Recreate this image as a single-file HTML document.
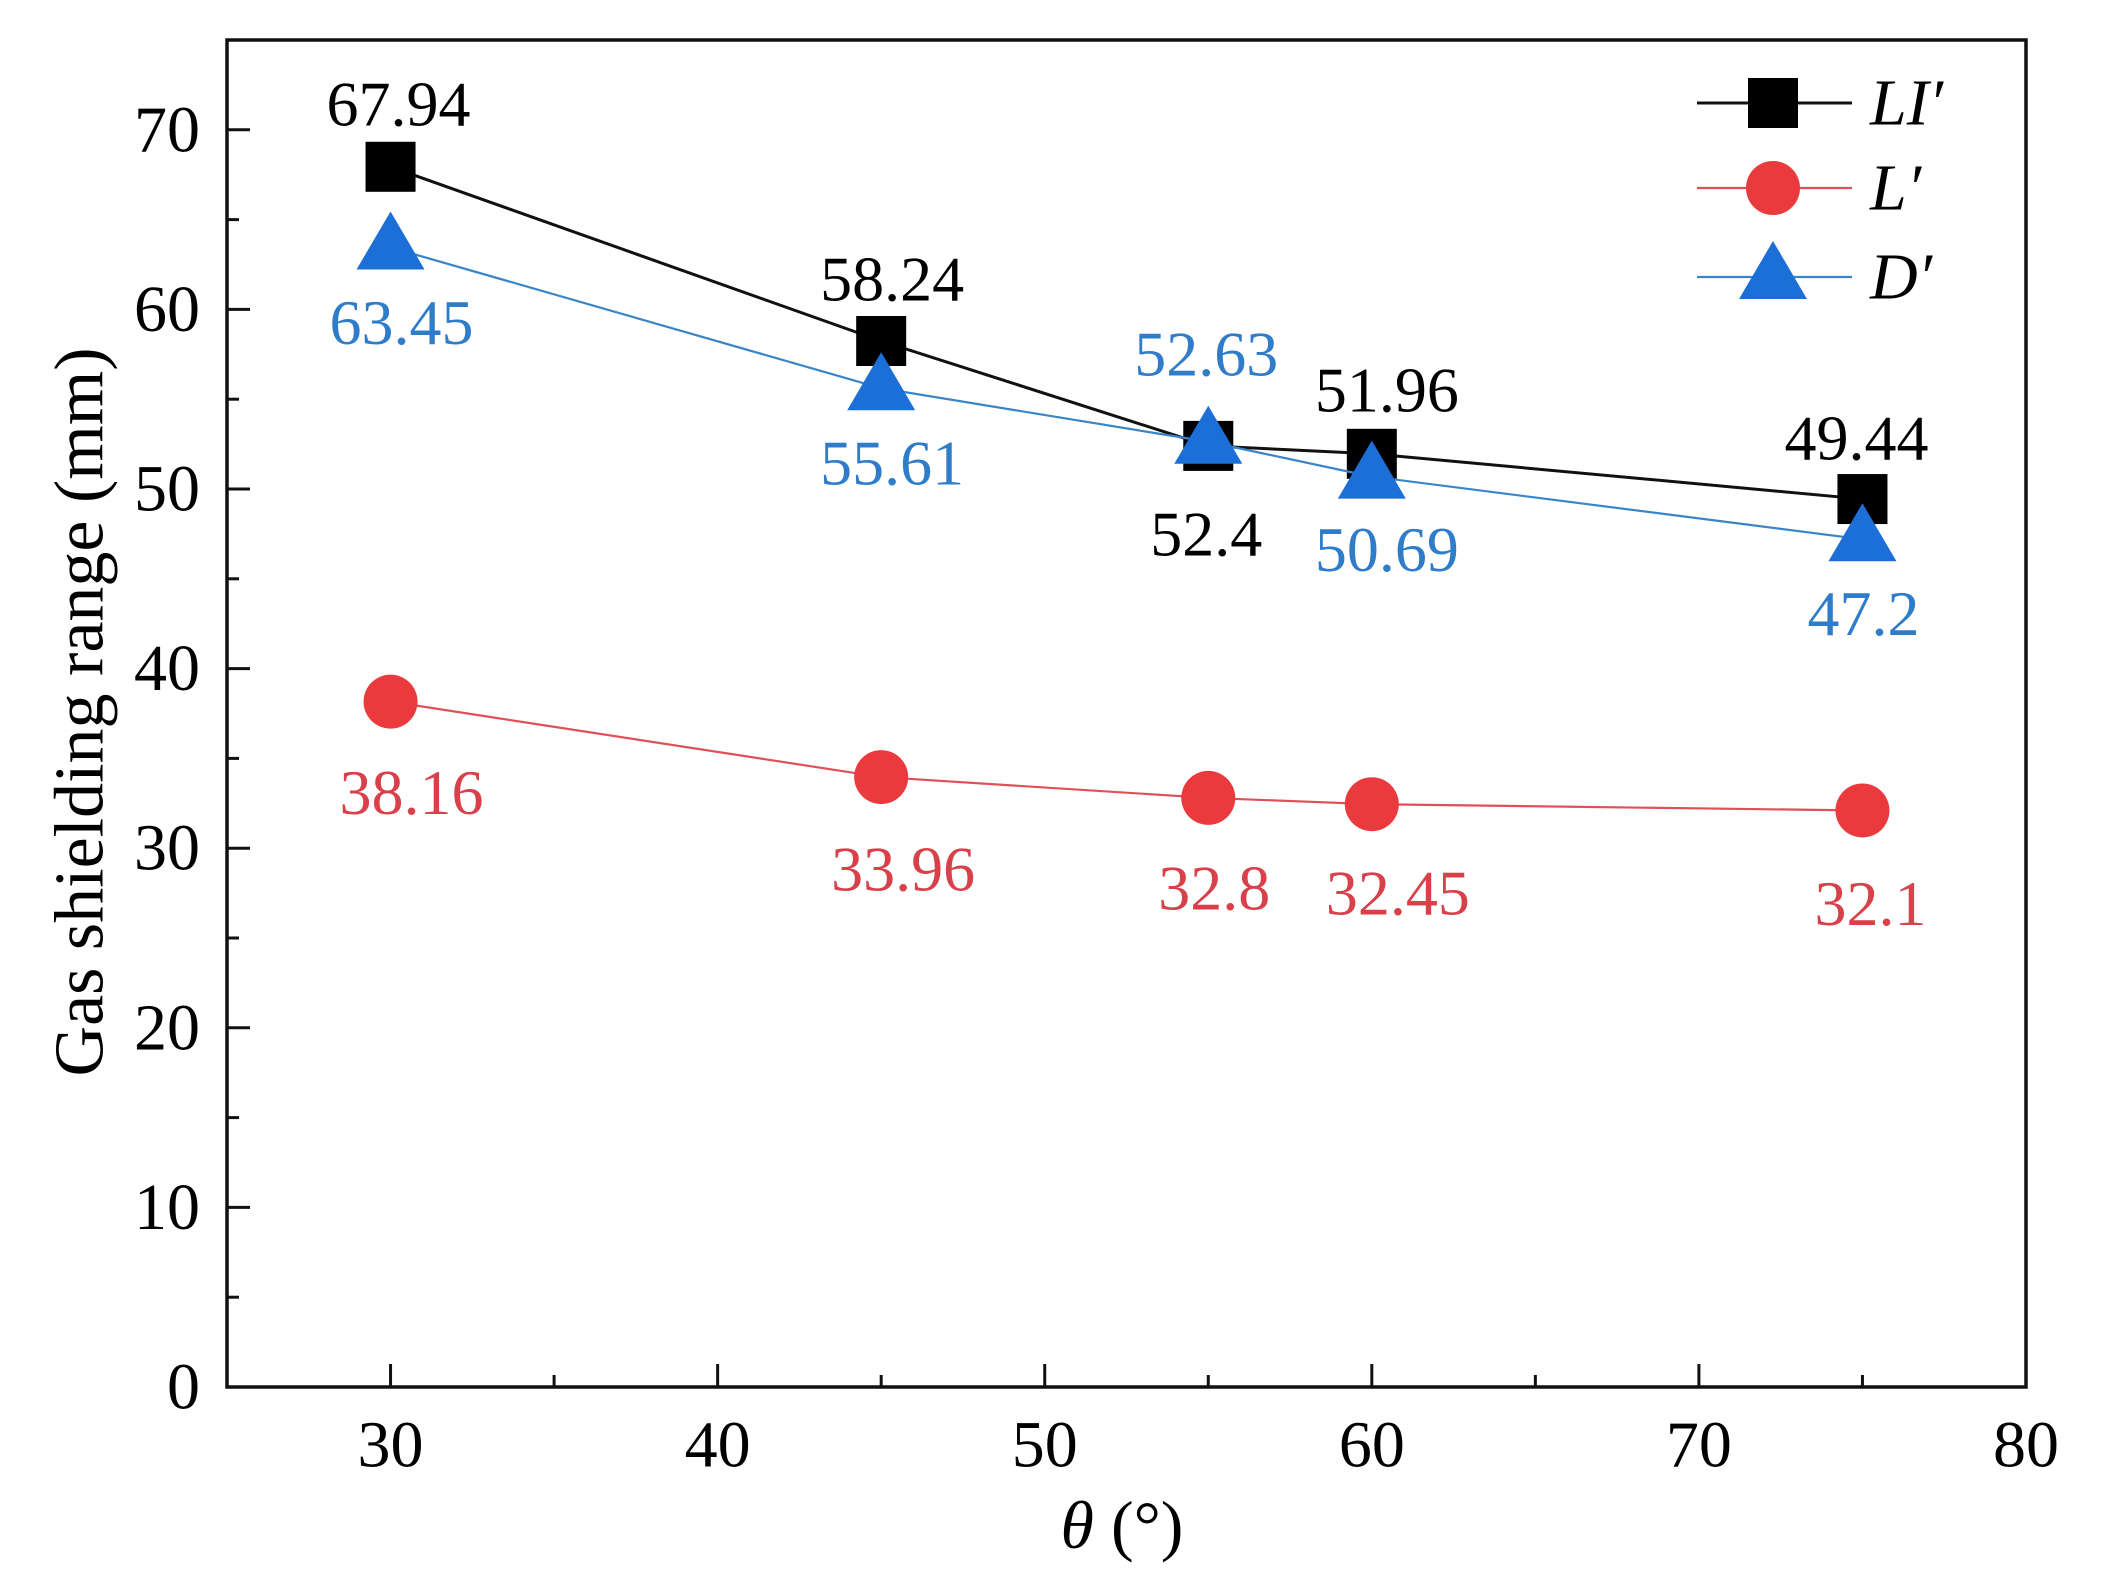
<!DOCTYPE html>
<html><head><meta charset="utf-8"><style>
html,body{margin:0;padding:0;background:#fff;}
svg{display:block;font-family:"Liberation Serif",serif;}
</style></head><body>
<svg id="chart" width="2109" height="1595" viewBox="0 0 2109 1595" xmlns="http://www.w3.org/2000/svg">
<g id="axes"></g>
<g id="series"></g>
<g id="legend"></g>
<text x="0" y="0" transform="translate(80,712) rotate(-90)" text-anchor="middle" dominant-baseline="central" font-size="70">Gas shielding range (mm)</text>
<text x="1122" y="1525" text-anchor="middle" dominant-baseline="central" font-size="68"><tspan font-style="italic">θ</tspan> (°)</text>
</svg>
<script>
const categories = [30, 45, 55, 60, 75];
const seriesLI = [67.94, 58.24, 52.4, 51.96, 49.44];
const seriesL = [38.16, 33.96, 32.8, 32.45, 32.1];
const seriesD = [63.45, 55.61, 52.63, 50.69, 47.2];
const labelsLI = ["67.94", "58.24", "52.4", "51.96", "49.44"];
const labelsL = ["38.16", "33.96", "32.8", "32.45", "32.1"];
const labelsD = ["63.45", "55.61", "52.63", "50.69", "47.2"];
const xTicks = [30, 40, 50, 60, 70, 80];
const yTicks = [0, 10, 20, 30, 40, 50, 60, 70];

const NS = "http://www.w3.org/2000/svg";
const L = 227, R = 2026, T = 40, B = 1387;
const xMin = 25, xMax = 80, yMin = 0, yMax = 75;
const X = v => L + (v - xMin) / (xMax - xMin) * (R - L);
const Y = v => B - (v - yMin) / (yMax - yMin) * (B - T);
function mk(tag, attrs, parent) { const e = document.createElementNS(NS, tag); for (const k in attrs) e.setAttribute(k, attrs[k]); parent.appendChild(e); return e; }

const axes = document.getElementById('axes');
let frame = mk('rect', {x: L, y: T, width: R - L, height: B - T, fill: 'none', stroke: '#111', 'stroke-width': 3.5}, axes);


for (let v = 25; v <= 80; v += 5) {
  const major = v % 10 === 0;
  const t = mk('line', {x1: X(v), x2: X(v), y1: B, y2: B - (major ? 23 : 12), stroke: '#111', 'stroke-width': 3}, axes);
  
  
}
xTicks.forEach(v => {
  const t = mk('text', {x: X(v), y: B + 58, 'text-anchor': 'middle', 'dominant-baseline': 'central', 'font-size': 66}, axes);
  t.textContent = v;
  
  
});
for (let v = 0; v <= 75; v += 5) {
  const major = v % 10 === 0;
  const t = mk('line', {x1: L, x2: L + (major ? 23 : 12), y1: Y(v), y2: Y(v), stroke: '#111', 'stroke-width': 3}, axes);
  
  
}
yTicks.forEach(v => {
  const t = mk('text', {x: 200, y: Y(v), 'text-anchor': 'end', 'dominant-baseline': 'central', 'font-size': 66}, axes);
  t.textContent = v;
  
  
});

const series = document.getElementById('series');
function marker(shape, cx, cy, color, parent) {
  let m;
  if (shape === 'square') m = mk('rect', {x: cx - 25, y: cy - 25, width: 50, height: 50, fill: color}, parent);
  else if (shape === 'circle') m = mk('circle', {cx: cx, cy: cy, r: 27, fill: color}, parent);
  else m = mk('polygon', {points: `${cx},${cy - 36} ${cx - 34},${cy + 22} ${cx + 34},${cy + 22}`, fill: color}, parent);
  return m;
}
function drawSeries(name, vals, labels, shape, lineColor, markColor, textColor, lw, offsets) {
  const g = mk('g', {}, series);
  
  
  const pl = mk('polyline', {points: categories.map((c, i) => X(c) + ',' + Y(vals[i])).join(' '), fill: 'none', stroke: lineColor, 'stroke-width': lw}, g);
  
  
  categories.forEach((c, i) => {
    const m = marker(shape, X(c), Y(vals[i]), markColor, g);
    
    
  });
  categories.forEach((c, i) => {
    const t = mk('text', {x: X(c) + offsets[i][0], y: Y(vals[i]) + offsets[i][1], 'text-anchor': 'middle', 'dominant-baseline': 'central', 'font-size': 64, fill: textColor}, g);
    t.textContent = labels[i];
    
    
  });
}
drawSeries('l', seriesL, labelsL, 'circle', '#e05058', '#ea3a3d', '#d8404a', 2.2, [[21,91],[22,92],[6,90],[26,89],[8,93]]);
drawSeries('li', seriesLI, labelsLI, 'square', '#111', '#000', '#000', 3, [[8,-63],[11,-62],[-2,88],[15,-64],[-6,-61]]);
drawSeries('d', seriesD, labelsD, 'triangle', '#3a84c8', '#1d6fd8', '#2f7dc9', 2.2, [[11,75],[11,75],[-2,-88],[15,73],[1,74]]);

const legend = document.getElementById('legend');
const leg = [['LI′', 'square', '#111', '#000', 3, 103], ['L′', 'circle', '#e05058', '#ea3a3d', 2.2, 188], ['D′', 'triangle', '#3a84c8', '#1d6fd8', 2.2, 277]];
leg.forEach(e => {
  const g = mk('g', {}, legend);
  
  
  mk('line', {x1: 1697, x2: 1852, y1: e[5], y2: e[5], stroke: e[2], 'stroke-width': e[4]}, g);
  marker(e[1], 1773, e[5], e[3], g);
  const t = mk('text', {x: 1870, y: e[5], 'dominant-baseline': 'central', 'font-size': 66, 'font-style': 'italic'}, g);
  t.textContent = e[0];
});
</script>
</body></html>
